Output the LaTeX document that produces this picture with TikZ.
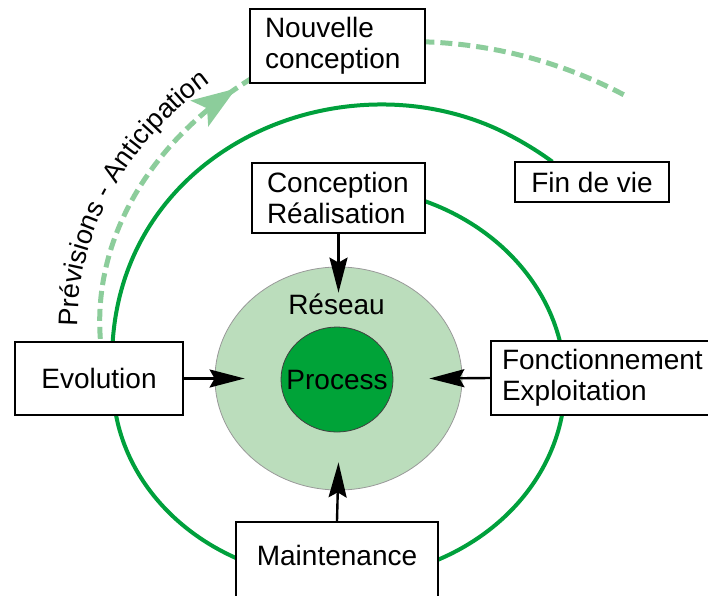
\documentclass[tikz,border=0pt]{standalone}
\usepackage{fontspec}
\setmainfont{Liberation Sans}
\usetikzlibrary{arrows.meta,shapes.geometric,decorations.text,decorations.markings}

\definecolor{cycleGreen}{RGB}{0,160,60}
\definecolor{processGreen}{RGB}{0,163,56}
\definecolor{networkGreen}{RGB}{187,221,188}
\definecolor{futureGreen}{RGB}{140,205,155}

\newcommand\labelfont{\fontsize{28}{31}\selectfont}
\newcommand\arcfont{\fontsize{27}{30}\selectfont}

\begin{document}
\begin{tikzpicture}[x=1pt,y=-1pt,
  stage/.style={draw=black, line width=2.4pt, fill=white, inner sep=0pt, font=\labelfont},
  link/.style={draw=black, line width=2.4pt, -{Stealth[length=35pt,width=18pt,inset=5pt]}},
  lifecycle/.style={draw=cycleGreen, line width=4pt},
  future/.style={draw=futureGreen, line width=5pt, dash pattern=on 12pt off 6pt},
  network/.style={ellipse, draw=black!40, line width=0.8pt, fill=networkGreen, inner sep=0pt},
  core/.style={ellipse, draw=black!75, line width=0.8pt, fill=processGreen, inner sep=0pt},
  % spiral radius: constant for the first turn, then widening towards the end of life
  declare function={
    spu(\p)=min(1,max(0,(\p-243)/125));
    spr(\p)=226+106*(3*spu(\p)^2-2*spu(\p)^3);
    antr(\p)=244+1.2*\p+0.0098*\p*\p;
  },
]
\useasboundingbox (0,0) rectangle (708,595);

% life-cycle spiral, from design round to end of life
\draw[lifecycle] plot[domain=0:378, samples=190, smooth, variable=\t]
  ({339+spr(\t)*cos(68-\t)}, {383-0.87*spr(\t)*sin(68-\t)});

% anticipation arc towards the next design
\draw[future, decoration={markings, mark=at position -22pt with {\arrow{Stealth[length=44pt,width=31pt,inset=9pt]}}}, postaction={decorate}]
  plot[domain=0:64.5, samples=60, smooth, variable=\t]
  ({339+antr(\t)*cos(168-\t)}, {383-0.87*antr(\t)*sin(168-\t)});
\draw[future] plot[domain=0:29, samples=30, smooth, variable=\t]
  ({339+(401+1.25*\t)*cos(78-\t)}, {383-0.87*(401+1.25*\t)*sin(78-\t)});

\path[decorate, decoration={text along path, text align=left, text={|\arcfont|Prévisions - Anticipation}}]
  plot[domain=2:70, samples=9, smooth, variable=\t]
  ({339+(antr(\t)+23)*cos(168-\t)}, {383-0.87*(antr(\t)+23)*sin(168-\t)});

% stages of the life cycle
\node[stage, align=left, inner xsep=15pt, text width=145pt, minimum height=74pt] (nouv) at (337.5,46) {Nouvelle\\conception};
\node[stage, align=left, inner xsep=15pt, text width=143pt, minimum height=70pt] (conc) at (338.5,198) {Conception\\Réalisation};
\node[stage, minimum width=154pt, minimum height=40pt] (fin) at (592,182) {Fin de vie};
\node[stage, minimum width=168pt, minimum height=73pt] (evo) at (99,378.5) {Evolution};
\node[stage, align=left, inner xsep=11pt, text width=205pt, minimum height=74pt] (fonc) at (604.5,378) {Fonctionnement\\Exploitation};
\node[stage, minimum width=202pt, minimum height=80pt, text height=20pt, text depth=14pt] (maint) at (337,562) {Maintenance};

% network and process discs
\node[network, minimum width=247pt, minimum height=223pt] (reseau) at (338.5,378.5) {};
\node[core, minimum width=112pt, minimum height=105pt] (proc) at (337,379.5) {};
\node[font=\labelfont] (netlabel) at (336.5,304) {Réseau};
\node[font=\labelfont] (proclabel) at (proc) {Process};

% actions on the network
\draw[link] (conc.south) -- ([yshift=-26pt]reseau.north);
\draw[link] (evo.east) -- ([xshift=30pt]reseau.west);
\draw[link] (fonc.west) -- ([xshift=-33pt]reseau.east);
\draw[link] (maint.north) -- ([yshift=28pt]reseau.south);
\end{tikzpicture}
\end{document}
